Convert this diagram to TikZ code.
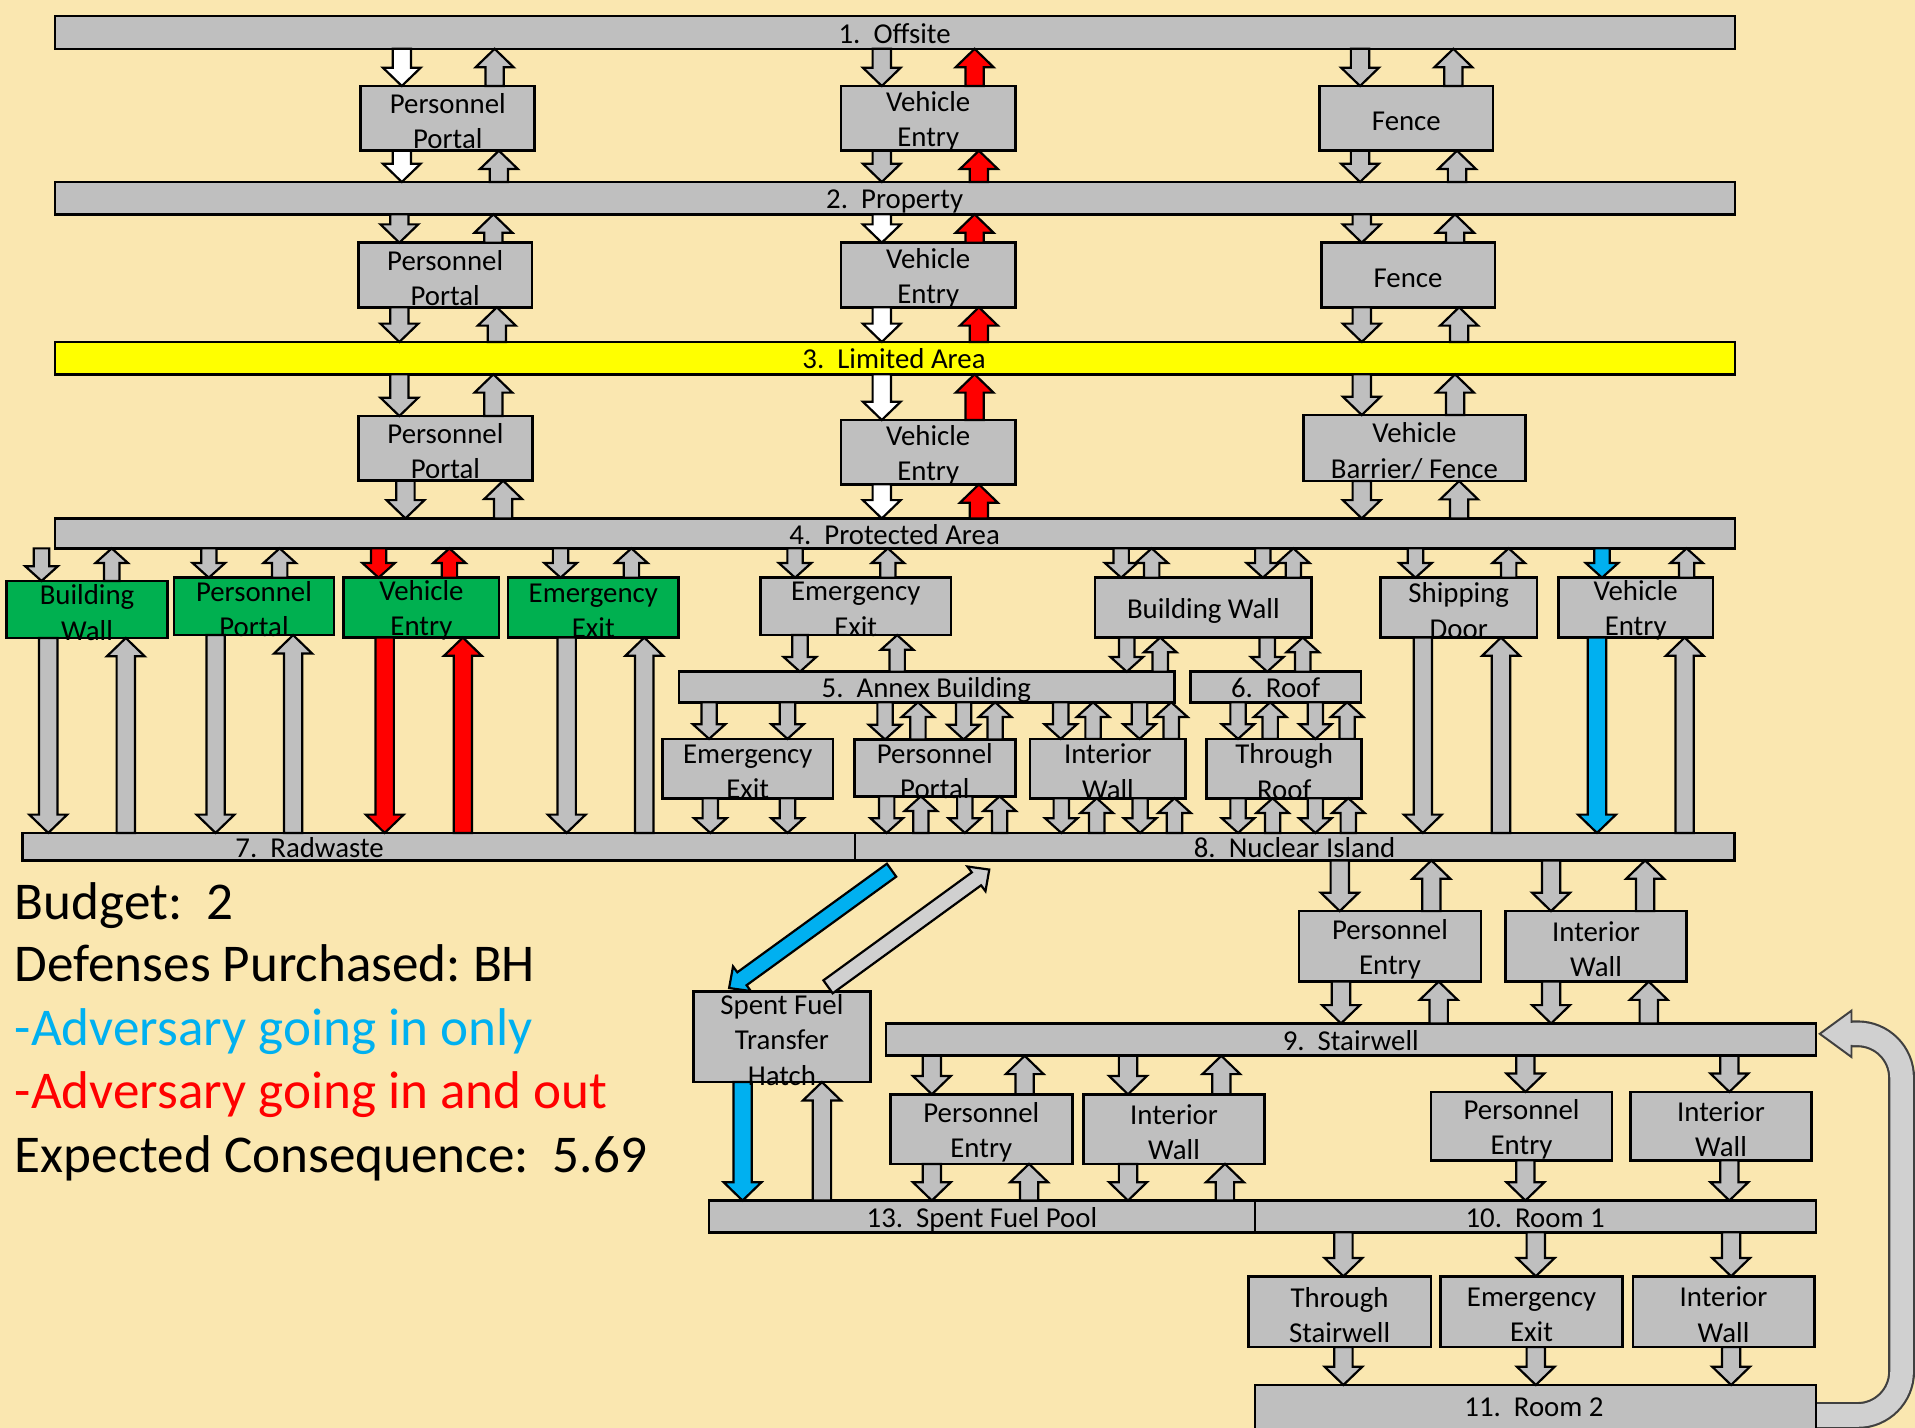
\documentclass[tikz,border=0pt]{standalone}
\usepackage{fontspec}
\setmainfont{Carlito}
\frenchspacing
\usetikzlibrary{calc}
\definecolor{cbg}{RGB}{250,231,176}
\definecolor{cgray}{RGB}{191,191,191}
\definecolor{clg}{RGB}{208,208,208}
\definecolor{cgreen}{RGB}{0,176,80}
\definecolor{cyel}{RGB}{255,255,0}
\definecolor{cred}{RGB}{255,0,0}
\definecolor{cblue}{RGB}{0,176,240}
\newdimen\asw \newdimen\ahw \newdimen\ahl
\pgfdeclarelayer{txt}
\pgfsetlayers{main,txt}
\tikzset{
 box/.style={draw=black, line width=2.2pt, fill=cgray, inner sep=0pt, outer sep=0pt},
 gbox/.style={box, fill=cgreen},
 ybar/.style={box, fill=cyel},
 lbl/.style={inner sep=0pt, align=center, font=\fontsize{23.6}{28.8}\selectfont},
 blbl/.style={inner sep=0pt, anchor=base, font=\fontsize{23.6}{28.8}\selectfont},
 leg/.style={inner sep=0pt, anchor=base west, font=\fontsize{43.5}{52}\selectfont},
 ar/.style={draw=black, line width=1.8pt, line join=miter},
 bigar/.code={\global\asw=7.5pt\relax \global\ahw=15.5pt\relax \global\ahl=15pt\relax},
 smallar/.code={\global\asw=6.3pt\relax \global\ahw=13.3pt\relax \global\ahl=12pt\relax},
}
% box: [style]{name}{x1}{y1}{x2}{y2}{text}
\newcommand\mkbox[7][box]{%
 \node[#1, minimum width={(#5-#3)*1pt}, minimum height={(#6-#4)*1pt}] (#2) at ({(#3+#5)/2},{(#4+#6)/2}) {};
 \begin{pgfonlayer}{txt}\node[lbl] (#2t) at ([yshift=-2.5pt]#2.center) {#7};\end{pgfonlayer}}
% bar: [style]{name}{x1}{y1}{x2}{y2}{label x}{label baseline}{text}
\newcommand\mkbar[9][box]{%
 \node[#1, minimum width={(#5-#3)*1pt}, minimum height={(#6-#4)*1pt}] (#2) at ({(#3+#5)/2},{(#4+#6)/2}) {};
 \begin{pgfonlayer}{txt}\node[blbl] (#2t) at (#7,{#8+1.5}) {#9};\end{pgfonlayer}}
% block arrows: [size]{fill}{x}{tail anchor}{tip anchor}
\newcommand\ardn[5][bigar]{%
 \filldraw[ar,#1,fill=#2] let \p1=(#3,0 |- #4), \p2=(#3,0 |- #5) in
 ({\x1-\asw},\y1) -- ({\x1-\asw},{\y2+\ahl}) -- ({\x1-\ahw},{\y2+\ahl}) -- (\x1,\y2)
 -- ({\x1+\ahw},{\y2+\ahl}) -- ({\x1+\asw},{\y2+\ahl}) -- ({\x1+\asw},\y1) -- cycle;}
\newcommand\arup[5][bigar]{%
 \filldraw[ar,#1,fill=#2] let \p1=(#3,0 |- #4), \p2=(#3,0 |- #5) in
 ({\x1-\asw},\y1) -- ({\x1-\asw},{\y2-\ahl}) -- ({\x1-\ahw},{\y2-\ahl}) -- (\x1,\y2)
 -- ({\x1+\ahw},{\y2-\ahl}) -- ({\x1+\asw},{\y2-\ahl}) -- ({\x1+\asw},\y1) -- cycle;}
\begin{document}
\begin{tikzpicture}[x=1pt,y=-1pt]
\useasboundingbox (0,0) rectangle (1568,1169);
\fill[cbg] (0,0) rectangle (1568,1169);
% curved return arrow (Room 2 -> Stairwell)
\draw[line width=22pt, draw=black!75, rounded corners=36pt] (1484,1159) -- (1557,1159) -- (1557,846.5) -- (1512,846.5);
\draw[line width=18.5pt, draw=clg, rounded corners=36pt] (1484,1159) -- (1557,1159) -- (1557,846.5) -- (1512,846.5);
% bars
\mkbar{b1}{45}{13}{1420.5}{40}{732.5}{34}{1.\ \ Offsite}
\mkbar{b2}{45}{149}{1420.5}{175.5}{732.5}{169.5}{2.\ \ Property}
\mkbar[ybar]{b3}{45}{280}{1420.5}{306.5}{732}{300.5}{3.\ \ Limited Area}
\mkbar{b4}{45}{424.5}{1420.5}{449}{732.5}{444.5}{4.\ \ Protected Area}
\mkbar{b5}{556}{550}{961.7}{575}{758.5}{570}{5.\ \ Annex Building}
\mkbar{b6}{975}{550}{1114.4}{575}{1044.5}{570}{6.\ \ Roof}
\mkbar{b7}{18.3}{682}{700}{704.5}{253.5}{700.5}{7.\ \ Radwaste}
\mkbar{b8}{700}{682}{1420.4}{704.5}{1060}{700.5}{8.\ \ Nuclear Island}
\mkbar{b9}{725.5}{838}{1487}{864.5}{1106}{858.5}{9.\ \ Stairwell}
\mkbar{b13}{580.6}{983}{1027.6}{1009}{804}{1003.5}{13.\ \ Spent Fuel Pool}
\mkbar{b10}{1027.6}{983}{1487}{1009}{1257}{1003.5}{10.\ \ Room 1}
\mkbar{b11}{1027.6}{1134}{1487}{1180}{1256}{1158.5}{11.\ \ Room 2}
% boxes
\mkbox{r1pp}{295.4}{70.4}{437.9}{123.4}{Personnel\\Portal}
\mkbox{r1ve}{688.6}{70.4}{831.5}{123.4}{Vehicle\\Entry}
\mkbox{r1fe}{1080.5}{70.4}{1222.5}{123.4}{Fence}
\mkbox{r2pp}{293.4}{198.7}{435.6}{251.6}{Personnel\\Portal}
\mkbox{r2ve}{688.6}{198.7}{831.5}{251.6}{Vehicle\\Entry}
\mkbox{r2fe}{1081.8}{198.7}{1224}{251.6}{Fence}
\mkbox{r3pp}{293.4}{340.6}{436}{393.6}{Personnel\\Portal}
\mkbox{r3ve}{688.6}{343.9}{831.5}{396.6}{Vehicle\\Entry}
\mkbox{r3vb}{1067.3}{339.8}{1248.9}{393.9}{Vehicle\\Barrier/ Fence}
\mkbox[gbox]{bwg}{5.5}{475.7}{137}{522.4}{Building\\Wall}
\mkbox[gbox]{ppg}{142.5}{473}{273.4}{520}{Personnel\\Portal}
\mkbox[gbox]{veg}{281.5}{473}{408.6}{522}{Vehicle\\Entry}
\mkbox[gbox]{eeg}{416}{473}{555.6}{522}{Emergency\\Exit}
\mkbox{ee4}{622.6}{473}{778.7}{520}{Emergency\\Exit}
\mkbox{bw4}{896.6}{473}{1074}{522}{Building Wall}
\mkbox{sd}{1130.4}{473}{1258.5}{522}{Shipping\\Door}
\mkbox{ve4}{1276}{473}{1402.6}{522}{Vehicle\\Entry}
\mkbox{ee5}{542.5}{605}{682}{653.6}{Emergency\\Exit}
\mkbox{pp5}{699.7}{605.5}{831.2}{652}{Personnel\\Portal}
\mkbox{iw5}{843.4}{605}{970.9}{653.6}{Interior\\Wall}
\mkbox{tr5}{988}{605}{1115}{653.6}{Through\\Roof}
\mkbox{pe8}{1063.6}{746}{1212.6}{803.7}{Personnel\\Entry}
\mkbox{iw8}{1232.6}{746}{1381}{803.7}{Interior\\Wall}
\mkbox{hatch}{568}{812}{712.5}{886}{Spent Fuel\\Transfer\\Hatch}
\mkbox{pe9a}{729}{896}{878}{953}{Personnel\\Entry}
\mkbox{iw9a}{887}{896}{1035.6}{953}{Interior\\Wall}
\mkbox{pe9b}{1171.7}{894}{1320}{950}{Personnel\\Entry}
\mkbox{iw9b}{1334.8}{894}{1483.5}{950}{Interior\\Wall}
\mkbox{ts}{1022}{1045}{1171.7}{1103}{Through\\Stairwell}
\mkbox{ee10}{1179.6}{1045}{1328.4}{1103}{Emergency\\Exit}
\mkbox{iw10}{1337}{1045}{1485.5}{1103}{Interior\\Wall}
% head of the curved return arrow
\filldraw[fill=clg, draw=black!75, line width=1.6pt, line join=miter] (1516,837.5) -- (1516,827.5) -- (1490,846.5) -- (1516,865.5) -- (1516,855.5);
% row 1
\ardn{white}{329}{b1.south}{r1pp.north}
\arup{cgray}{405}{r1pp.north}{b1.south}
\ardn{cgray}{722}{b1.south}{r1ve.north}
\arup{cred}{798}{r1ve.north}{b1.south}
\ardn{cgray}{1113.6}{b1.south}{r1fe.north}
\arup{cgray}{1190}{r1fe.north}{b1.south}
\ardn{white}{329}{r1pp.south}{b2.north}
\arup{cgray}{408.5}{b2.north}{r1pp.south}
\ardn{cgray}{722}{r1ve.south}{b2.north}
\arup{cred}{801.5}{b2.north}{r1ve.south}
\ardn{cgray}{1113.6}{r1fe.south}{b2.north}
\arup{cgray}{1193}{b2.north}{r1fe.south}
% row 2
\ardn{cgray}{327}{b2.south}{r2pp.north}
\arup{cgray}{404}{r2pp.north}{b2.south}
\ardn{white}{722}{b2.south}{r2ve.north}
\arup{cred}{798}{r2ve.north}{b2.south}
\ardn{cgray}{1115}{b2.south}{r2fe.north}
\arup{cgray}{1191.4}{r2fe.north}{b2.south}
\ardn{cgray}{327}{r2pp.south}{b3.north}
\arup{cgray}{406.8}{b3.north}{r2pp.south}
\ardn{white}{722}{r2ve.south}{b3.north}
\arup{cred}{801.5}{b3.north}{r2ve.south}
\ardn{cgray}{1115}{r2fe.south}{b3.north}
\arup{cgray}{1194.7}{b3.north}{r2fe.south}
% row 3
\ardn{cgray}{327}{b3.south}{r3pp.north}
\arup{cgray}{404}{r3pp.north}{b3.south}
\ardn{white}{722}{b3.south}{r3ve.north}
\arup{cred}{798}{r3ve.north}{b3.south}
\ardn{cgray}{1115}{b3.south}{r3vb.north}
\arup{cgray}{1191.4}{r3vb.north}{b3.south}
\ardn{cgray}{332}{r3pp.south}{b4.north}
\arup{cgray}{412}{b4.north}{r3pp.south}
\ardn{white}{722}{r3ve.south}{b4.north}
\arup{cred}{801.5}{b4.north}{r3ve.south}
\ardn{cgray}{1115}{r3vb.south}{b4.north}
\arup{cgray}{1194.7}{b4.north}{r3vb.south}
% row 4 short
\ardn[smallar]{cgray}{34}{b4.south}{bwg.north}
\arup[smallar]{cgray}{91.5}{bwg.north}{b4.south}
\ardn[smallar]{cgray}{171}{b4.south}{ppg.north}
\arup[smallar]{cgray}{229}{ppg.north}{b4.south}
\ardn[smallar]{cred}{310}{b4.south}{veg.north}
\arup[smallar]{cred}{368}{veg.north}{b4.south}
\ardn[smallar]{cgray}{459}{b4.south}{eeg.north}
\arup[smallar]{cgray}{517}{eeg.north}{b4.south}
\ardn[smallar]{cgray}{651}{b4.south}{ee4.north}
\arup[smallar]{cgray}{727}{ee4.north}{b4.south}
\ardn[smallar]{cgray}{918}{b4.south}{bw4.north}
\arup[smallar]{cgray}{943}{bw4.north}{b4.south}
\ardn[smallar]{cgray}{1034}{b4.south}{bw4.north}
\arup[smallar]{cgray}{1059}{bw4.north}{b4.south}
\ardn[smallar]{cgray}{1159}{b4.south}{sd.north}
\arup[smallar]{cgray}{1235.3}{sd.north}{b4.south}
\ardn[smallar]{cblue}{1311.7}{b4.south}{ve4.north}
\arup[smallar]{cgray}{1381}{ve4.north}{b4.south}
% row 4 long
\ardn{cgray}{39.5}{bwg.south}{b7.north}
\arup{cgray}{103}{b7.north}{bwg.south}
\ardn{cgray}{176.5}{ppg.south}{b7.north}
\arup{cgray}{240}{b7.north}{ppg.south}
\ardn{cred}{315}{veg.south}{b7.north}
\arup{cred}{379}{b7.north}{veg.south}
\ardn{cgray}{464}{eeg.south}{b7.north}
\arup{cgray}{527.5}{b7.north}{eeg.south}
\ardn{cgray}{1165}{sd.south}{b8.north}
\arup{cgray}{1229}{b8.north}{sd.south}
\ardn{cblue}{1307.6}{ve4.south}{b8.north}
\arup{cgray}{1379.4}{b8.north}{ve4.south}
% to annex / roof
\ardn[smallar]{cgray}{655}{ee4.south}{b5.north}
\arup[smallar]{cgray}{734.6}{b5.north}{ee4.south}
\ardn[smallar]{cgray}{922.6}{bw4.south}{b5.north}
\arup[smallar]{cgray}{950}{b5.north}{bw4.south}
\ardn[smallar]{cgray}{1037.6}{bw4.south}{b6.north}
\arup[smallar]{cgray}{1066.7}{b6.north}{bw4.south}
% row 5
\ardn[smallar]{cgray}{580.6}{b5.south}{ee5.north}
\ardn[smallar]{cgray}{644.8}{b5.south}{ee5.north}
\ardn[smallar]{cgray}{724.7}{b5.south}{pp5.north}
\arup[smallar]{cgray}{751.6}{pp5.north}{b5.south}
\ardn[smallar]{cgray}{789}{b5.south}{pp5.north}
\arup[smallar]{cgray}{814.8}{pp5.north}{b5.south}
\ardn[smallar]{cgray}{868.5}{b5.south}{iw5.north}
\arup[smallar]{cgray}{895}{iw5.north}{b5.south}
\ardn[smallar]{cgray}{933}{b5.south}{iw5.north}
\arup[smallar]{cgray}{959}{iw5.north}{b5.south}
\ardn[smallar]{cgray}{1013.7}{b6.south}{tr5.north}
\arup[smallar]{cgray}{1040}{tr5.north}{b6.south}
\ardn[smallar]{cgray}{1077}{b6.south}{tr5.north}
\arup[smallar]{cgray}{1103}{tr5.north}{b6.south}
\ardn[smallar]{cgray}{581.6}{ee5.south}{b7.north}
\ardn[smallar]{cgray}{644.8}{ee5.south}{b7.north}
\ardn[smallar]{cgray}{726}{pp5.south}{b8.north}
\arup[smallar]{cgray}{754}{b8.north}{pp5.south}
\ardn[smallar]{cgray}{790}{pp5.south}{b8.north}
\arup[smallar]{cgray}{818.5}{b8.north}{pp5.south}
\ardn[smallar]{cgray}{869}{iw5.south}{b8.north}
\arup[smallar]{cgray}{898}{b8.north}{iw5.south}
\ardn[smallar]{cgray}{933.5}{iw5.south}{b8.north}
\arup[smallar]{cgray}{961.7}{b8.north}{iw5.south}
\ardn[smallar]{cgray}{1013.7}{tr5.south}{b8.north}
\arup[smallar]{cgray}{1042}{b8.north}{tr5.south}
\ardn[smallar]{cgray}{1077}{tr5.south}{b8.north}
\arup[smallar]{cgray}{1104}{b8.north}{tr5.south}
% lower section
\ardn{cgray}{1097}{b8.south}{pe8.north}
\arup{cgray}{1172}{pe8.north}{b8.south}
\ardn{cgray}{1270}{b8.south}{iw8.north}
\arup{cgray}{1347}{iw8.north}{b8.south}
\ardn{cgray}{1098}{pe8.south}{b9.north}
\arup{cgray}{1178}{b9.north}{pe8.south}
\ardn{cgray}{1270}{iw8.south}{b9.north}
\arup{cgray}{1350}{b9.north}{iw8.south}
\ardn{cgray}{763}{b9.south}{pe9a.north}
\arup{cgray}{839}{pe9a.north}{b9.south}
\ardn{cgray}{923.6}{b9.south}{iw9a.north}
\arup{cgray}{1000}{iw9a.north}{b9.south}
\ardn{cgray}{1249}{b9.south}{pe9b.north}
\ardn{cgray}{1416}{b9.south}{iw9b.north}
\ardn{cgray}{763}{pe9a.south}{b13.north}
\arup{cgray}{842.6}{b13.north}{pe9a.south}
\ardn{cgray}{923.6}{iw9a.south}{b13.north}
\arup{cgray}{1003}{b13.north}{iw9a.south}
\ardn{cgray}{1249}{pe9b.south}{b10.north}
\ardn{cgray}{1416}{iw9b.south}{b10.north}
\ardn{cblue}{608}{hatch.south}{b13.north}
\arup{cgray}{673}{b13.north}{hatch.south}
\ardn{cgray}{1100}{b10.south}{ts.north}
\ardn{cgray}{1257.5}{b10.south}{ee10.north}
\ardn{cgray}{1417.4}{b10.south}{iw10.north}
\ardn{cgray}{1100}{ts.south}{b11.north}
\ardn{cgray}{1257.5}{ee10.south}{b11.north}
\ardn{cgray}{1417.4}{iw10.south}{b11.north}
% diagonal arrows between Nuclear Island and the hatch
\filldraw[ar, fill=cblue] (726.2,707.2) -- (603.7,796.1) -- (600.2,791.3) -- (597,809) -- (614.8,811.5) -- (611.3,806.7) -- (733.8,717.8) -- cycle;
\filldraw[ar, fill=clg] (681.8,813.3) -- (803.3,724.9) -- (806.9,729.7) -- (810,712) -- (792.1,709.5) -- (795.7,714.3) -- (674.2,802.7) -- cycle;
% legend
\node[leg] (l1) at (12,752.8) {Budget:\ \ 2};
\node[leg] (l2) at (12,803.8) {Defenses Purchased: BH};
\node[leg, text=cblue] (l3) at (12,855.7) {-Adversary going in only};
\node[leg, text=cred] (l4) at (12,907.4) {-Adversary going in and out};
\node[leg] (l5) at (12,960) {Expected Consequence:\ \ 5.69};
\end{tikzpicture}
\end{document}
